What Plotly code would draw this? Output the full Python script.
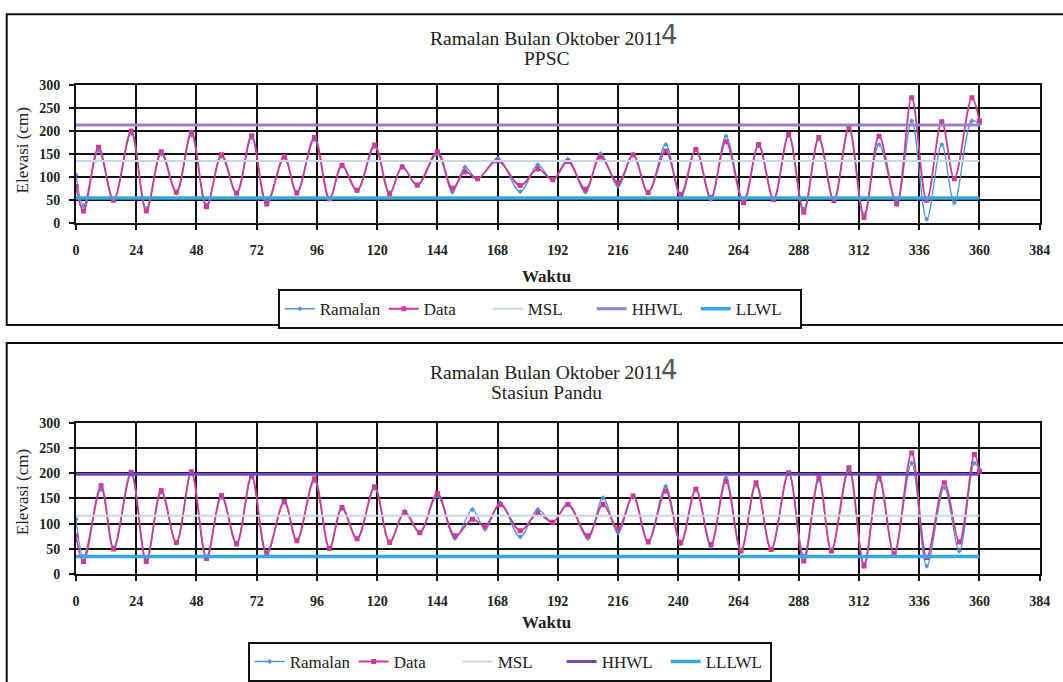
import plotly.graph_objects as go

W, H = 1063, 682

# ---------------- data (extrema of the tidal curves) ----------------
ppsc_hours = [0, 3, 9, 15, 22, 28, 34, 40, 46, 52, 58, 64, 70, 76, 83, 88, 95, 101, 106, 112,
              119, 125, 130, 136, 144, 150, 155, 160, 168, 177, 184, 190, 196, 203, 209, 216,
              222, 228, 235, 241, 247, 253, 259, 266, 272, 278, 284, 290, 296, 302, 308, 314,
              320, 327, 333, 339, 345, 350, 357, 360]
ppsc_data = [80, 27, 165, 50, 200, 27, 155, 68, 197, 36, 149, 66, 190, 42, 145, 66, 186, 54, 126, 72,
             170, 64, 122, 83, 155, 76, 112, 97, 136, 82, 118, 95, 134, 74, 144, 88,
             148, 67, 157, 63, 160, 56, 177, 45, 171, 52, 193, 24, 186, 49, 207, 13,
             189, 42, 272, 50, 220, 97, 272, 222]
ppsc_ramalan = [105, 38, 158, 52, 195, 32, 150, 66, 192, 40, 145, 64, 186, 46, 142, 68, 182, 52, 124, 70,
                166, 66, 124, 82, 150, 68, 122, 96, 141, 69, 127, 93, 139, 68, 151, 81,
                150, 66, 171, 56, 160, 52, 189, 50, 168, 52, 190, 31, 183, 52, 211, 20,
                171, 46, 222, 9, 171, 45, 222, 215]

pandu_hours = [0, 3, 10, 15, 22, 28, 34, 40, 46, 52, 58, 64, 70, 76, 83, 88, 95, 101, 106, 112,
               119, 125, 131, 137, 144, 151, 158, 163, 169, 177, 184, 190, 196, 204, 210, 216,
               222, 228, 235, 241, 247, 253, 259, 265, 271, 277, 284, 290, 296, 301, 308, 314,
               320, 326, 333, 339, 346, 352, 358, 360]
pandu_data = [76, 25, 175, 50, 202, 25, 166, 63, 203, 31, 156, 60, 195, 40, 144, 66, 189, 51, 132, 70,
              173, 63, 122, 82, 160, 76, 109, 95, 138, 86, 120, 103, 138, 76, 138, 90,
              155, 64, 165, 63, 168, 59, 184, 46, 181, 49, 201, 26, 191, 46, 211, 16,
              194, 39, 240, 33, 181, 64, 237, 204]
pandu_ramalan = [109, 35, 168, 52, 198, 30, 162, 62, 200, 35, 152, 62, 192, 44, 142, 68, 185, 52, 130, 72,
                 170, 65, 125, 84, 155, 71, 128, 89, 141, 74, 128, 103, 139, 71, 151, 82,
                 155, 66, 174, 60, 168, 55, 191, 48, 176, 50, 200, 36, 186, 48, 206, 20,
                 188, 42, 220, 16, 171, 46, 220, 207]

level_hours = [0, 360]
ppsc_levels = {"MSL": 135, "HHWL": 213, "LLWL": 55}
pandu_levels = {"MSL": 116, "HHWL": 198, "LLLWL": 35}

x_ticks = [0, 24, 48, 72, 96, 120, 144, 168, 192, 216, 240, 264, 288, 312, 336, 360, 384]
y_ticks = [0, 50, 100, 150, 200, 250, 300]

title_line1 = "Ramalan Bulan Oktober 2011"
station_names = ["PPSC", "Stasiun Pandu"]

# ---------------- styling ----------------
SERIF = "Liberation Serif, Times New Roman, serif"
C_RAM = "#4f93d8"
C_DATA = "#d03a96"
C_MSL = "#c8d7e7"
C_HHWL_TOP = "#9a7fd0"
C_HHWL_BOT = "#7447c2"
C_LLWL = "#3aa6e0"
TXT = "#222222"

# screen-pixel -> paper mapping (calibrated to the rendered page)
SX, OX, SY, OY = 0.984, 4.3, 0.98, 5.8


def px(x):
    return ((x - OX) / SX) / W


def py(y):
    return 1 - ((y - OY) / SY) / H


fig = go.Figure()

panels = [
    dict(hours=ppsc_hours, data=ppsc_data, ram=ppsc_ramalan, levels=ppsc_levels,
         xa="x", ya="y", legend="legend", hh=C_HHWL_TOP),
    dict(hours=pandu_hours, data=pandu_data, ram=pandu_ramalan, levels=pandu_levels,
         xa="x2", ya="y2", legend="legend2", hh=C_HHWL_BOT),
]

for p in panels:
    fig.add_trace(go.Scatter(x=p["hours"], y=p["ram"], name="Ramalan", mode="lines+markers",
                             line=dict(color=C_RAM, width=1.3, shape="spline", smoothing=1.0),
                             marker=dict(symbol="diamond", size=4, color=C_RAM),
                             xaxis=p["xa"], yaxis=p["ya"], legend=p["legend"]))
    fig.add_trace(go.Scatter(x=p["hours"], y=p["data"], name="Data", mode="lines+markers",
                             line=dict(color=C_DATA, width=1.8, shape="spline", smoothing=1.0),
                             marker=dict(symbol="square", size=5, color=C_DATA),
                             xaxis=p["xa"], yaxis=p["ya"], legend=p["legend"]))
    names = list(p["levels"].keys())
    colors = [C_MSL, p["hh"], C_LLWL]
    widths = [2, 3, 3.5]
    for nm, col, wd in zip(names, colors, widths):
        v = p["levels"][nm]
        fig.add_trace(go.Scatter(x=level_hours, y=[v] * len(level_hours), name=nm, mode="lines",
                                 line=dict(color=col, width=wd),
                                 xaxis=p["xa"], yaxis=p["ya"], legend=p["legend"]))

tickfont = dict(family=SERIF, size=14, color=TXT, weight="bold")
axis_common = dict(range=[0, 384], tickmode="array", tickvals=x_ticks,
                   showgrid=True, gridcolor="#111111", gridwidth=2,
                   showline=True, linecolor="#111111", linewidth=2, mirror=True,
                   ticks="outside", ticklen=5, tickwidth=2, tickcolor="#111111",
                   tickfont=tickfont, ticklabelstandoff=8, zeroline=False)
yaxis_common = dict(range=[0, 300], tickmode="array", tickvals=y_ticks,
                    showgrid=True, gridcolor="#111111", gridwidth=2,
                    showline=True, linecolor="#111111", linewidth=2, mirror=True,
                    ticks="outside", ticklen=5, tickwidth=2, tickcolor="#111111",
                    tickfont=tickfont, ticklabelstandoff=6, zeroline=False)

legend_common = dict(orientation="h", xanchor="left", yanchor="top",
                     bordercolor="#111111", borderwidth=2, bgcolor="white",
                     itemwidth=30, entrywidth=59, entrywidthmode="pixels",
                     font=dict(family=SERIF, size=17, color=TXT), tracegroupgap=0)

x_dom = [px(77), px(1037)]
fig.update_layout(
    width=W, height=H, margin=dict(l=0, r=0, t=0, b=0),
    paper_bgcolor="white", plot_bgcolor="white",
    xaxis=dict(domain=x_dom, anchor="y", **axis_common),
    yaxis=dict(domain=[py(223), py(84)], anchor="x", **yaxis_common),
    xaxis2=dict(domain=x_dom, anchor="y2", **axis_common),
    yaxis2=dict(domain=[py(575), py(423)], anchor="x2", **yaxis_common),
    legend=dict(x=px(278), y=py(289), **legend_common),
    legend2=dict(x=px(248), y=py(643), **legend_common),
    showlegend=True,
)

# chart frames
fig.add_shape(type="rect", xref="paper", yref="paper", x0=px(8), x1=px(1066), y0=py(325), y1=py(13),
              line=dict(color="#111111", width=2), layer="below")
fig.add_shape(type="rect", xref="paper", yref="paper", x0=px(8), x1=px(1066), y0=py(700), y1=py(343),
              line=dict(color="#111111", width=2), layer="below")

ann = []
for cy1, cy2, wy, ey, name in [(37, 57, 276, 150, station_names[0]),
                               (373, 393, 623, 493, station_names[1])]:
    common = dict(xref="paper", yref="paper", showarrow=False, xanchor="center", yanchor="middle")
    ann.append(dict(text=title_line1, x=px(546), y=py(cy1),
                    font=dict(family=SERIF, size=19.5, color=TXT), **common))
    ann.append(dict(text=name, x=px(546), y=py(cy2),
                    font=dict(family=SERIF, size=19.5, color=TXT), **common))
    ann.append(dict(text="4", x=px(668), y=py(cy1 - 3),
                    font=dict(family="DejaVu Sans", size=26, color="#555555"), **common))
    ann.append(dict(text="<b>Waktu</b>", x=px(546), y=py(wy),
                    font=dict(family=SERIF, size=17, color=TXT), **common))
    ann.append(dict(text="Elevasi (cm)", x=px(24), y=py(ey), textangle=-90,
                    font=dict(family=SERIF, size=17, color=TXT), **common))
fig.update_layout(annotations=ann)

fig.write_html("out.html", config={"displayModeBar": False},
               post_script="document.body.style.margin='0';document.body.style.overflow='hidden';")
